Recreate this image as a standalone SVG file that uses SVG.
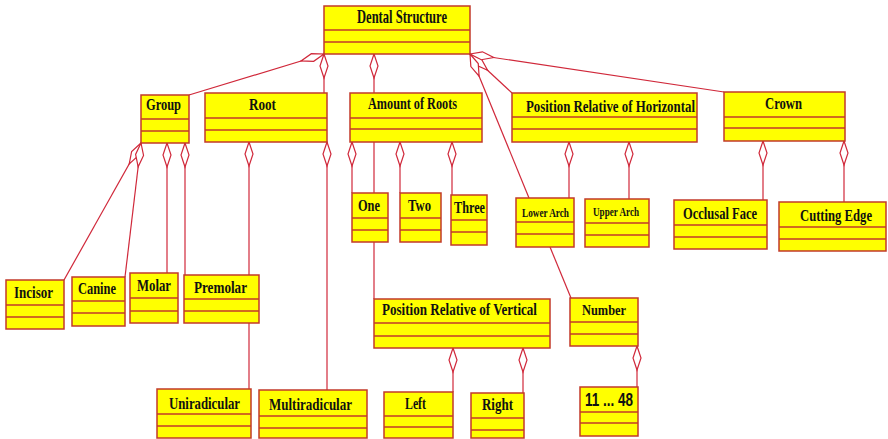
<svg xmlns="http://www.w3.org/2000/svg" width="888" height="439" viewBox="0 0 888 439">
  <style>
    .box rect { fill: #ffff00; stroke: #c23a2a; stroke-width: 1.5; }
    .box line { stroke: #c23a2a; stroke-width: 1.5; }
    .box text { font-family: "Liberation Serif", "Times New Roman", serif; font-weight: bold; font-size: 17px; fill: #111; text-anchor: middle; }
    .box text.title { font-size: 19px; }
    .box text.sm { font-size: 13px; }
    .box text.md { font-size: 15px; }
    .box text.num { font-family: "Liberation Sans", Arial, sans-serif; font-size: 18px; }
    .conn path { fill: none; stroke: #d0283a; stroke-width: 1.2; }
    .conn path.agg { marker-start: url(#diamond); }
  </style>
  <defs>
    <marker id="diamond" markerUnits="userSpaceOnUse" markerWidth="26" markerHeight="10" refX="0" refY="5" orient="auto" viewBox="0 0 26 10" overflow="visible">
      <polygon points="0,5 12,1 24,5 12,9" fill="#ffffff" stroke="#d0283a" stroke-width="1.2"/>
    </marker>
  </defs>

  <!-- connectors -->
  <g id="connectors" class="conn">
    <path class="agg" d="M324,54 L189,95"/>
    <path class="agg" d="M324,54 L324,93"/>
    <path class="agg" d="M374,54 L374,93"/>
    <path class="agg" d="M470,54 L512,93"/>
    <path class="agg" d="M470,54 L529,198"/>
    <path class="agg" d="M470,54 L724,92"/>
    <path class="agg" d="M141,143 L64,280"/>
    <path class="agg" d="M141,143 L125,277"/>
    <path class="agg" d="M167,143 L167,273"/>
    <path class="agg" d="M185,143 L185,275"/>
    <path class="agg" d="M249,142 L249,389"/>
    <path class="agg" d="M327,142 L327,390"/>
    <path class="agg" d="M352,142 L352,193"/>
    <path class="agg" d="M400,142 L400,193"/>
    <path class="agg" d="M452,142 L452,195"/>
    <path d="M374,142 L374,193"/>
    <path d="M374,242 L374,299"/>
    <path class="agg" d="M569,142 L569,198"/>
    <path class="agg" d="M629,142 L629,199"/>
    <path class="agg" d="M763,141 L763,200"/>
    <path class="agg" d="M844,141 L844,202"/>
    <path d="M550,247 L571,298"/>
    <path class="agg" d="M637,346 L637,387"/>
    <path class="agg" d="M453,348 L453,392"/>
    <path class="agg" d="M523,348 L523,393"/>
  </g>

  <!-- classes -->
  <g id="dental-structure" class="box">
    <rect x="324" y="6" width="146" height="48"/>
    <line x1="324" y1="30" x2="470" y2="30"/><line x1="324" y1="42" x2="470" y2="42"/>
    <text class="title" x="402" y="23" textLength="90" lengthAdjust="spacingAndGlyphs">Dental Structure</text>
  </g>
  <g id="group" class="box">
    <rect x="141" y="95" width="48" height="48"/>
    <line x1="141" y1="119" x2="189" y2="119"/><line x1="141" y1="131" x2="189" y2="131"/>
    <text x="163.5" y="110" textLength="35" lengthAdjust="spacingAndGlyphs">Group</text>
  </g>
  <g id="root" class="box">
    <rect x="205" y="93" width="122" height="49"/>
    <line x1="205" y1="118" x2="327" y2="118"/><line x1="205" y1="130" x2="327" y2="130"/>
    <text x="262.5" y="110" textLength="27" lengthAdjust="spacingAndGlyphs">Root</text>
  </g>
  <g id="amount-of-roots" class="box">
    <rect x="350" y="93" width="132" height="49"/>
    <line x1="350" y1="118" x2="482" y2="118"/><line x1="350" y1="129" x2="482" y2="129"/>
    <text x="412.5" y="109" textLength="89" lengthAdjust="spacingAndGlyphs">Amount of Roots</text>
  </g>
  <g id="position-horizontal" class="box">
    <rect x="512" y="93" width="185" height="49"/>
    <line x1="512" y1="117" x2="697" y2="117"/><line x1="512" y1="129" x2="697" y2="129"/>
    <text x="610.5" y="112" textLength="169" lengthAdjust="spacingAndGlyphs">Position Relative of Horizontal</text>
  </g>
  <g id="crown" class="box">
    <rect x="724" y="92" width="121" height="49"/>
    <line x1="724" y1="117" x2="845" y2="117"/><line x1="724" y1="128" x2="845" y2="128"/>
    <text x="783.5" y="109" textLength="37" lengthAdjust="spacingAndGlyphs">Crown</text>
  </g>
  <g id="one" class="box">
    <rect x="352" y="193" width="36" height="49"/>
    <line x1="352" y1="218" x2="388" y2="218"/><line x1="352" y1="230" x2="388" y2="230"/>
    <text x="369" y="211" textLength="22" lengthAdjust="spacingAndGlyphs">One</text>
  </g>
  <g id="two" class="box">
    <rect x="400" y="193" width="41" height="49"/>
    <line x1="400" y1="218" x2="441" y2="218"/><line x1="400" y1="230" x2="441" y2="230"/>
    <text x="419.5" y="211" textLength="23" lengthAdjust="spacingAndGlyphs">Two</text>
  </g>
  <g id="three" class="box">
    <rect x="451" y="195" width="36" height="50"/>
    <line x1="451" y1="220" x2="487" y2="220"/><line x1="451" y1="232" x2="487" y2="232"/>
    <text x="469.5" y="213" textLength="31" lengthAdjust="spacingAndGlyphs">Three</text>
  </g>
  <g id="lower-arch" class="box">
    <rect x="516" y="198" width="58" height="49"/>
    <line x1="516" y1="222" x2="574" y2="222"/><line x1="516" y1="234" x2="574" y2="234"/>
    <text class="sm" x="545.5" y="217" textLength="47" lengthAdjust="spacingAndGlyphs">Lower Arch</text>
  </g>
  <g id="upper-arch" class="box">
    <rect x="585" y="199" width="64" height="48"/>
    <line x1="585" y1="223" x2="649" y2="223"/><line x1="585" y1="235" x2="649" y2="235"/>
    <text class="sm" x="616" y="216" textLength="46" lengthAdjust="spacingAndGlyphs">Upper Arch</text>
  </g>
  <g id="occlusal-face" class="box">
    <rect x="674" y="200" width="93" height="49"/>
    <line x1="674" y1="225" x2="767" y2="225"/><line x1="674" y1="237" x2="767" y2="237"/>
    <text x="720" y="219" textLength="74" lengthAdjust="spacingAndGlyphs">Occlusal Face</text>
  </g>
  <g id="cutting-edge" class="box">
    <rect x="779" y="202" width="107" height="49"/>
    <line x1="779" y1="227" x2="886" y2="227"/><line x1="779" y1="239" x2="886" y2="239"/>
    <text x="836" y="221" textLength="72" lengthAdjust="spacingAndGlyphs">Cutting Edge</text>
  </g>
  <g id="incisor" class="box">
    <rect x="6" y="280" width="58" height="49"/>
    <line x1="6" y1="305" x2="64" y2="305"/><line x1="6" y1="317" x2="64" y2="317"/>
    <text x="33.5" y="298" textLength="39" lengthAdjust="spacingAndGlyphs">Incisor</text>
  </g>
  <g id="canine" class="box">
    <rect x="72" y="277" width="53" height="49"/>
    <line x1="72" y1="301" x2="125" y2="301"/><line x1="72" y1="313" x2="125" y2="313"/>
    <text x="97" y="294" textLength="38" lengthAdjust="spacingAndGlyphs">Canine</text>
  </g>
  <g id="molar" class="box">
    <rect x="130" y="273" width="48" height="50"/>
    <line x1="130" y1="298" x2="178" y2="298"/><line x1="130" y1="311" x2="178" y2="311"/>
    <text x="154" y="291" textLength="34" lengthAdjust="spacingAndGlyphs">Molar</text>
  </g>
  <g id="premolar" class="box">
    <rect x="184" y="275" width="75" height="48"/>
    <line x1="184" y1="299" x2="259" y2="299"/><line x1="184" y1="311" x2="259" y2="311"/>
    <text x="220.5" y="293" textLength="53" lengthAdjust="spacingAndGlyphs">Premolar</text>
  </g>
  <g id="uniradicular" class="box">
    <rect x="157" y="389" width="94" height="49"/>
    <line x1="157" y1="414" x2="251" y2="414"/><line x1="157" y1="426" x2="251" y2="426"/>
    <text x="204.5" y="409" textLength="71" lengthAdjust="spacingAndGlyphs">Uniradicular</text>
  </g>
  <g id="multiradicular" class="box">
    <rect x="259" y="390" width="108" height="48"/>
    <line x1="259" y1="416" x2="367" y2="416"/><line x1="259" y1="428" x2="367" y2="428"/>
    <text x="310.5" y="410" textLength="83" lengthAdjust="spacingAndGlyphs">Multiradicular</text>
  </g>
  <g id="position-vertical" class="box">
    <rect x="374" y="299" width="176" height="49"/>
    <line x1="374" y1="323" x2="550" y2="323"/><line x1="374" y1="336" x2="550" y2="336"/>
    <text x="459.5" y="315" textLength="155" lengthAdjust="spacingAndGlyphs">Position Relative of Vertical</text>
  </g>
  <g id="left" class="box">
    <rect x="384" y="392" width="69" height="46"/>
    <line x1="384" y1="416" x2="453" y2="416"/><line x1="384" y1="427" x2="453" y2="427"/>
    <text x="415.5" y="409" textLength="21" lengthAdjust="spacingAndGlyphs">Left</text>
  </g>
  <g id="right" class="box">
    <rect x="471" y="393" width="53" height="45"/>
    <line x1="471" y1="418" x2="524" y2="418"/><line x1="471" y1="430" x2="524" y2="430"/>
    <text x="497.5" y="410" textLength="31" lengthAdjust="spacingAndGlyphs">Right</text>
  </g>
  <g id="number" class="box">
    <rect x="570" y="298" width="68" height="48"/>
    <line x1="570" y1="322" x2="638" y2="322"/><line x1="570" y1="334" x2="638" y2="334"/>
    <text class="md" x="604" y="315" textLength="44" lengthAdjust="spacingAndGlyphs">Number</text>
  </g>
  <g id="range-11-48" class="box">
    <rect x="580" y="387" width="58" height="49"/>
    <line x1="580" y1="412" x2="638" y2="412"/><line x1="580" y1="423" x2="638" y2="423"/>
    <text class="num" x="609" y="406" textLength="48" lengthAdjust="spacingAndGlyphs">11 ... 48</text>
  </g>
</svg>
